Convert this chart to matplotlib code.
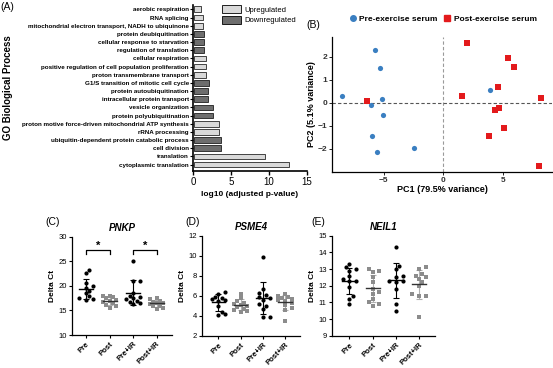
import numpy as np
import matplotlib
matplotlib.use("Agg")
import matplotlib.pyplot as plt
from matplotlib.patches import Patch
from matplotlib.lines import Line2D

plt.rcParams["font.family"] = ["Liberation Sans", "DejaVu Sans"]

W, H = 553, 368

# ---------------- Panel A: GO terms ----------------
go_terms = [
    "aerobic respiration",
    "RNA splicing",
    "mitochondrial electron transport, NADH to ubiquinone",
    "protein deubiquitination",
    "cellular response to starvation",
    "regulation of translation",
    "cellular respiration",
    "positive regulation of cell population proliferation",
    "proton transmembrane transport",
    "G1/S transition of mitotic cell cycle",
    "protein autoubiquitination",
    "intracellular protein transport",
    "vesicle organization",
    "protein polyubiquitination",
    "proton motive force-driven mitochondrial ATP synthesis",
    "rRNA processing",
    "ubiquitin-dependent protein catabolic process",
    "cell division",
    "translation",
    "cytoplasmic translation",
]
go_values = [1.0, 1.2, 1.2, 1.4, 1.4, 1.4, 1.6, 1.6, 1.6, 2.0,
             1.9, 1.9, 2.5, 2.5, 3.3, 3.3, 3.6, 3.6, 9.4, 12.5]
go_direction = ["up", "up", "up", "down", "down", "down", "up", "up", "up", "down",
                "down", "down", "down", "down", "up", "up", "down", "down", "up", "up"]

# ---------------- Panel B: PCA ----------------
pre_pc1 = [-5.78, -5.33, -8.53, -5.19, -6.11, -5.06, -6.0, -5.58, -2.44, 3.92]
pre_pc2 = [2.3, 1.5, 0.29, 0.16, -0.1, -0.51, -1.46, -2.14, -1.94, 0.54]
post_pc1 = [-6.44, 1.94, 1.53, 5.44, 5.94, 4.53, 8.19, 4.31, 4.69, 5.06, 3.83, 8.0]
post_pc2 = [0.09, 2.61, 0.29, 1.94, 1.54, 0.70, 0.22, -0.33, -0.23, -1.1, -1.45, -2.74]

# ---------------- Panels C-E: Delta Ct ----------------
groups = ["Pre", "Post", "Pre+IR", "Post+IR"]
pnkp = [
    [23.2, 22.7, 20.6, 20.0, 19.6, 19.0, 18.5, 18.0, 17.5, 17.3, 17.2],
    [18.0, 17.9, 17.7, 17.5, 17.2, 17.0, 16.8, 16.5, 16.2, 15.8, 15.4],
    [25.0, 21.0, 21.0, 18.5, 18.0, 17.8, 17.5, 17.3, 17.0, 16.8, 16.5, 16.3],
    [17.5, 17.3, 17.0, 16.8, 16.6, 16.5, 16.3, 16.0, 15.8, 15.5, 15.2],
]
psme4 = [
    [6.35, 6.2, 5.9, 5.75, 5.7, 5.6, 5.5, 5.0, 4.4, 4.15, 4.05],
    [6.2, 5.8, 5.5, 5.3, 5.2, 5.1, 5.0, 4.9, 4.7, 4.6, 4.5, 4.4],
    [9.9, 6.7, 6.3, 6.1, 5.9, 5.8, 5.6, 5.2, 5.0, 4.7, 3.9, 3.9],
    [6.2, 6.0, 5.9, 5.8, 5.7, 5.6, 5.5, 5.3, 5.1, 4.8, 4.6, 3.5],
]
neil1 = [
    [13.3, 13.1, 13.0, 12.9, 12.6, 12.4, 12.3, 12.3, 11.9, 11.4, 11.2, 10.9],
    [13.0, 12.9, 12.8, 12.5, 12.2, 11.8, 11.6, 11.5, 11.2, 11.0, 10.9, 10.8],
    [14.3, 13.2, 13.0, 12.6, 12.5, 12.3, 12.3, 12.2, 11.8, 10.9, 10.5],
    [13.1, 13.0, 12.7, 12.6, 12.5, 12.4, 12.2, 12.0, 11.5, 11.4, 11.4, 10.1],
]

UP_COL = "#d9d9d9"
DOWN_COL = "#6e6e6e"
BLUE = "#3a7fc1"
RED = "#e31a1c"
GRAY = "#8c8c8c"


def px_axes(fig, left, top, right, bottom):
    return fig.add_axes([left / W, 1 - bottom / H, (right - left) / W, (bottom - top) / H])


def swarm_offsets(values, y_px, x_px, size, max_k=2):
    # compact beeswarm: pick the first free slot, else the least crowded one
    placed = []
    offsets = np.zeros(len(values))
    slots = [0]
    for k in range(1, max_k + 1):
        slots += [k, -k]
    for i in np.argsort(values):
        y = values[i] * y_px
        best, best_d = 0.0, -1
        for k in slots:
            x = k * size * 0.85
            d = min([np.hypot(x - px, y - py) for px, py in placed] + [1e9])
            if d >= size:
                best = x
                break
            if d > best_d:
                best, best_d = x, d
        placed.append((best, y))
        offsets[i] = best / x_px
    return offsets


fig = plt.figure(figsize=(W / 100, H / 100), dpi=100)

# ---------------- A ----------------
axA = px_axes(fig, 193, 5, 307, 171)
ypos = np.arange(len(go_terms))
cols = [UP_COL if d == "up" else DOWN_COL for d in go_direction]
axA.barh(ypos, go_values, height=0.7, color=cols, edgecolor="black", linewidth=0.5, left=0.08)
axA.set_yticks(ypos)
axA.set_yticklabels(go_terms, fontsize=4.5, fontweight="bold")
axA.set_ylim(19.78, -0.53)
axA.set_xlim(0, 15)
axA.set_xticks([0, 5, 10, 15])
axA.tick_params(axis="x", labelsize=7, width=1.0, length=3, pad=1.5)
axA.tick_params(axis="y", width=0.8, length=2, pad=1)
for s in ["top", "right"]:
    axA.spines[s].set_visible(False)
axA.spines["left"].set_linewidth(1.2)
axA.spines["bottom"].set_linewidth(1.2)
axA.set_xlabel("log10 (adjusted p-value)", fontsize=6, fontweight="bold", labelpad=3)
fig.text(8 / W, 1 - 88 / H, "GO Biological Process", rotation=90, fontsize=7,
         fontweight="bold", ha="center", va="center")
fig.text(0 / W, 1 - 7 / H, "(A)", fontsize=7.5, va="center")
fig.legend(handles=[Patch(facecolor=UP_COL, edgecolor="black", linewidth=0.6, label="Upregulated"),
                    Patch(facecolor=DOWN_COL, edgecolor="black", linewidth=0.6, label="Downregulated")],
           loc="upper left", bbox_to_anchor=(217 / W, 1 - 0 / H), frameon=False, fontsize=5.5,
           handlelength=2.5, handleheight=1.2, handletextpad=0.4, labelspacing=0.25, borderpad=0.2)

# ---------------- B ----------------
axB = px_axes(fig, 332, 37, 552, 172)
axB.axvline(0, color="#9a9a9a", ls=(0, (3, 2)), lw=0.8, zorder=1)
axB.axhline(0, color="#555555", ls=(0, (3, 2)), lw=0.8, zorder=1)
axB.scatter(pre_pc1, pre_pc2, s=14, marker="o", color=BLUE, linewidths=0, zorder=3)
axB.scatter(post_pc1, post_pc2, s=14, marker="s", color=RED, linewidths=0, zorder=3)
axB.set_xlim(-9.35, 9.1)
axB.set_ylim(-3.0, 2.85)
axB.set_xticks([-5, 0, 5])
axB.set_yticks([-2, -1, 0, 1, 2])
axB.tick_params(labelsize=6, length=2, width=0.6, pad=1.5, labelcolor="#333333")
for lab in axB.get_xticklabels() + axB.get_yticklabels():
    lab.set_fontweight("bold")
for s in ["top", "right"]:
    axB.spines[s].set_visible(False)
axB.spines["left"].set_linewidth(0.9)
axB.spines["bottom"].set_linewidth(0.9)
axB.set_xlabel("PC1 (79.5% variance)", fontsize=6.5, fontweight="bold", labelpad=1)
axB.set_ylabel("PC2 (5.1% variance)", fontsize=6.5, fontweight="bold", labelpad=1)
fig.text(306 / W, 1 - 25 / H, "(B)", fontsize=7.5, va="center")
fig.legend(handles=[Line2D([], [], marker="o", ls="none", color=BLUE, markersize=4, label="Pre-exercise serum"),
                    Line2D([], [], marker="s", ls="none", color=RED, markersize=4, label="Post-exercise serum")],
           loc="center left", bbox_to_anchor=(341 / W, 1 - 19 / H), ncol=2, frameon=False,
           prop={"size": 6, "weight": "bold"}, handlelength=1.0, handletextpad=0.3, columnspacing=0.6)

# ---------------- C, D, E ----------------
pt_colors = ["black", GRAY, "black", GRAY]
err_colors = ["black", "#b0b0b0", "black", "#b0b0b0"]
pt_markers = ["o", "s", "o", "s"]


def dot_panel(ax, data, ylim, yticks, title, x_lim):
    bbox = ax.get_position()
    y_px = bbox.height * H / (ylim[1] - ylim[0])
    x_px = bbox.width * W / (x_lim[1] - x_lim[0])
    for i, vals in enumerate(data):
        vals = np.array(vals)
        off = swarm_offsets(vals, y_px, x_px, 4.0)
        ax.scatter(i + off, vals, s=9, marker=pt_markers[i], color=pt_colors[i],
                   linewidths=0, zorder=3)
        m = vals.mean()
        sd = vals.std(ddof=1)
        ax.errorbar(i, m, yerr=sd, fmt="none", ecolor=err_colors[i], elinewidth=0.8,
                    capsize=2.2, capthick=0.8, zorder=2)
        ax.plot([i - 0.3, i + 0.3], [m, m], color="black" if i % 2 == 0 else "#333333",
                lw=1.0, zorder=4)
    ax.set_xlim(*x_lim)
    ax.set_ylim(*ylim)
    ax.set_yticks(yticks)
    ax.set_xticks(range(len(groups)))
    ax.set_xticklabels(groups, rotation=45, ha="right", rotation_mode="anchor",
                       fontsize=5.5, fontweight="bold")
    ax.tick_params(axis="y", labelsize=5.5, length=2.5, width=0.8, pad=1)
    ax.tick_params(axis="x", length=2.5, width=0.8, pad=1.5)
    for s in ["top", "right"]:
        ax.spines[s].set_visible(False)
    ax.spines["left"].set_linewidth(0.9)
    ax.spines["bottom"].set_linewidth(0.9)
    ax.set_ylabel("Delta Ct", fontsize=6, fontweight="bold", labelpad=2)
    ax.set_title(title, fontsize=7, fontweight="bold", style="italic", pad=4)


axC = px_axes(fig, 71.7, 236.7, 172, 335)
dot_panel(axC, pnkp, (10, 30), [10, 15, 20, 25, 30], "PNKP", (-0.61, 3.65))
for a, b in [(0, 1), (2, 3)]:
    axC.plot([a, a, b, b], [26.4, 27.2, 27.2, 26.4], color="black", lw=0.9)
    axC.text((a + b) / 2, 27.2, "*", ha="center", va="bottom", fontsize=8, fontweight="bold")
fig.text(45 / W, 1 - 222 / H, "(C)", fontsize=7.5, va="center")

axD = px_axes(fig, 201.7, 235.7, 300, 335.7)
dot_panel(axD, psme4, (2, 12), [2, 4, 6, 8, 10, 12], "PSME4", (-0.75, 3.68))
fig.text(185 / W, 1 - 222 / H, "(D)", fontsize=7.5, va="center")

axE = px_axes(fig, 331.7, 235.7, 435, 335.7)
dot_panel(axE, neil1, (9, 15), [9, 10, 11, 12, 13, 14, 15], "NEIL1", (-0.76, 3.69))
fig.text(311 / W, 1 - 222 / H, "(E)", fontsize=7.5, va="center")

fig.savefig("out.png", dpi=100)
